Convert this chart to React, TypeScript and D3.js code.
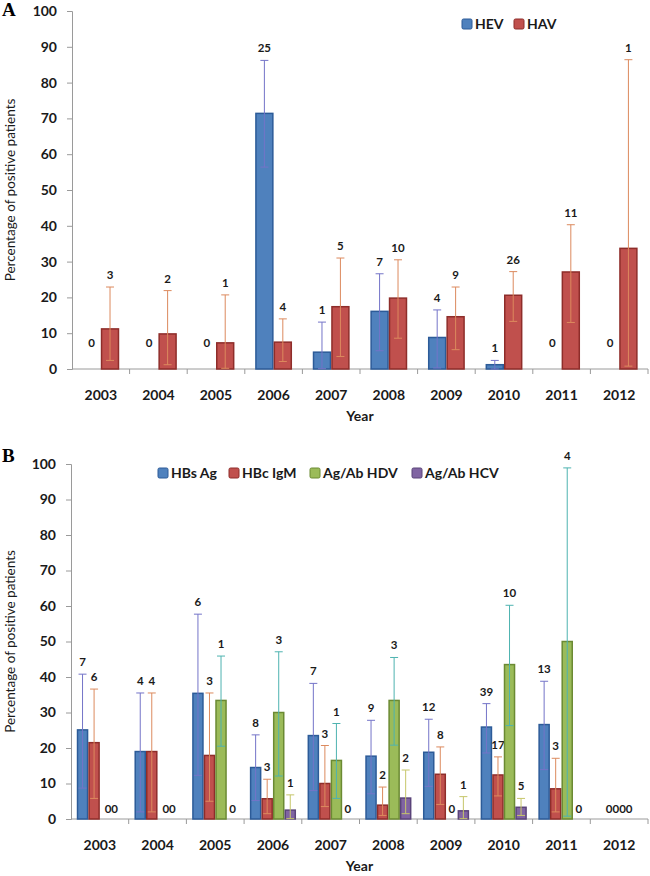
import React, { useEffect, useRef } from "react";
import * as d3 from "d3";

const years = ["2003", "2004", "2005", "2006", "2007", "2008", "2009", "2010", "2011", "2012"];
const yTicks = [0, 10, 20, 30, 40, 50, 60, 70, 80, 90, 100];

// Panel A
const hevPct = [0, 0, 0, 71.4, 4.7, 16.1, 8.8, 1.2, 0, 0];
const hevLow = [0, 0, 0, 56.4, 0.1, 5.1, 0.3, 0, 0, 0];
const hevHigh = [0, 0, 0, 86.2, 13.1, 26.6, 16.5, 2.4, 0, 0];
const hevN = [0, 0, 0, 25, 1, 7, 4, 1, 0, 0];

const havPct = [11.2, 9.8, 7.3, 7.5, 17.4, 19.8, 14.6, 20.6, 27.1, 33.7];
const havLow = [2.4, 1.2, 0.2, 2.1, 3.5, 8.6, 5.4, 13.3, 13.0, 0.8];
const havHigh = [22.9, 21.9, 20.7, 14.0, 31.0, 30.5, 22.9, 27.2, 40.3, 86.4];
const havN = [3, 2, 1, 4, 5, 10, 9, 26, 11, 1];

// Panel B
const hbsPct = [25.1, 19.0, 35.4, 14.5, 23.5, 17.7, 18.8, 25.9, 26.6, 0];
const hbsLow = [8.7, 2.0, 12.3, 5.2, 8.0, 7.1, 9.2, 18.6, 13.9, 0];
const hbsHigh = [40.8, 35.5, 57.7, 23.7, 38.2, 27.8, 28.1, 32.5, 38.8, 0];
const hbsN = [7, 4, 6, 8, 7, 9, 12, 39, 13, 0];

const hbcPct = [21.5, 19.0, 17.9, 5.7, 10.0, 3.9, 12.6, 12.4, 8.5, 0];
const hbcLow = [5.8, 2.0, 5.0, 1.5, 3.5, 1.0, 4.1, 6.5, 2.0, 0];
const hbcHigh = [36.6, 35.5, 35.5, 11.2, 20.7, 9.0, 20.3, 17.5, 17.1, 0];
const hbcN = [6, 4, 3, 3, 3, 2, 8, 17, 3, 0];

const hdvPct = [0, 0, 33.4, 30.0, 16.5, 33.4, 0, 43.5, 50.0, 0];
const hdvLow = [0, 0, 20.5, 12.1, 5.8, 20.8, 0, 26.3, 0.8, 0];
const hdvHigh = [0, 0, 45.9, 47.1, 26.9, 45.5, 0, 60.2, 98.9, 0];
const hdvN = [0, 0, 1, 3, 1, 3, 0, 10, 4, 0];

const hcvPct = [0, 0, 0, 2.5, 0, 5.9, 2.3, 3.3, 0, 0];
const hcvLow = [0, 0, 0, 0.1, 0, 1.5, 0.1, 1.0, 0, 0];
const hcvHigh = [0, 0, 0, 6.8, 0, 13.8, 6.3, 5.8, 0, 0];
const hcvN = [0, 0, 0, 1, 0, 2, 1, 5, 0, 0];

interface Series {
    name: string;
    pct: number[];
    low: number[];
    high: number[];
    n: number[];
    fill: string;
    stroke: string;
    err: string;
}

const seriesA: Series[] = [
    { name: "HEV", pct: hevPct, low: hevLow, high: hevHigh, n: hevN, fill: "#4f81bd", stroke: "#2c5b98", err: "#7474c8" },
    { name: "HAV", pct: havPct, low: havLow, high: havHigh, n: havN, fill: "#c0504d", stroke: "#8e2d2a", err: "#dc8a5e" },
];

const seriesB: Series[] = [
    { name: "HBs Ag", pct: hbsPct, low: hbsLow, high: hbsHigh, n: hbsN, fill: "#4f81bd", stroke: "#2c5b98", err: "#7474c8" },
    { name: "HBc IgM", pct: hbcPct, low: hbcLow, high: hbcHigh, n: hbcN, fill: "#c0504d", stroke: "#8e2d2a", err: "#dc8a5e" },
    { name: "Ag/Ab HDV", pct: hdvPct, low: hdvLow, high: hdvHigh, n: hdvN, fill: "#9bbb59", stroke: "#6b8a33", err: "#4eb3b0" },
    { name: "Ag/Ab HCV", pct: hcvPct, low: hcvLow, high: hcvHigh, n: hcvN, fill: "#8064a2", stroke: "#5a4479", err: "#c6c66a" },
];

const FONT = "Lato, 'Open Sans', sans-serif";

interface PanelCfg {
    letter: string;
    letterY: number;
    left: number;
    right: number;
    top: number;
    bottom: number;
    series: Series[];
    groupFrac: number;
    zeroLift: number;
    legendX: number[];
    legendY: number;
}

const drawPanel = (svg: any, cfg: PanelCfg) => {
    const g = svg.append("g");
    const x = d3.scaleBand().domain(years).range([cfg.left, cfg.right]).paddingInner(0).paddingOuter(0);
    const y = d3.scaleLinear().domain([0, 100]).range([cfg.bottom, cfg.top]);
    const groupW = x.bandwidth() * cfg.groupFrac;
    const names = cfg.series.map((s) => s.name);
    const xs = d3
        .scaleBand()
        .domain(names)
        .range([(x.bandwidth() - groupW) / 2, (x.bandwidth() + groupW) / 2]);

    // panel letter
    g.append("text")
        .attr("x", 2)
        .attr("y", cfg.letterY)
        .attr("font-family", "'Liberation Serif', 'Times New Roman', serif")
        .attr("font-weight", "bold")
        .attr("font-size", 19)
        .text(cfg.letter);

    // y axis
    const yAxis = d3.axisLeft(y).tickValues(yTicks).tickSize(5).tickPadding(10);
    const ya = g.append("g").attr("transform", `translate(${cfg.left},0)`).call(yAxis);
    ya.select(".domain").attr("stroke", "#9a9a9a");
    ya.selectAll(".tick line").attr("stroke", "#9a9a9a");
    ya.selectAll(".tick text")
        .attr("font-family", FONT)
        .attr("font-weight", "bold")
        .attr("font-size", 14)
        .attr("fill", "#1a1a1a");

    // x axis baseline and boundary ticks
    g.append("line")
        .attr("x1", cfg.left)
        .attr("x2", cfg.right)
        .attr("y1", cfg.bottom)
        .attr("y2", cfg.bottom)
        .attr("stroke", "#9a9a9a");
    years.forEach((yr) => {
        const bx = (x(yr) as number) + x.bandwidth();
        g.append("line")
            .attr("x1", bx)
            .attr("x2", bx)
            .attr("y1", cfg.bottom)
            .attr("y2", cfg.bottom + 5)
            .attr("stroke", "#9a9a9a");
        g.append("text")
            .attr("x", (x(yr) as number) + x.bandwidth() / 2)
            .attr("y", cfg.bottom + 31)
            .attr("text-anchor", "middle")
            .attr("font-family", FONT)
            .attr("font-weight", "bold")
            .attr("font-size", 14)
            .attr("fill", "#1a1a1a")
            .text(yr);
    });

    g.append("text")
        .attr("x", (cfg.left + cfg.right) / 2)
        .attr("y", cfg.bottom + 52)
        .attr("text-anchor", "middle")
        .attr("font-family", FONT)
        .attr("font-weight", "bold")
        .attr("font-size", 14)
        .attr("fill", "#1a1a1a")
        .text("Year");

    g.append("text")
        .attr("transform", `translate(15,${(cfg.top + cfg.bottom) / 2}) rotate(-90)`)
        .attr("text-anchor", "middle")
        .attr("font-family", FONT)
        .attr("font-size", 13.5)
        .attr("fill", "#1a1a1a")
        .text("Percentage of positive  patients");

    // bars + error bars
    cfg.series.forEach((s) => {
        years.forEach((yr, i) => {
            const bx = (x(yr) as number) + (xs(s.name) as number);
            const bw = xs.bandwidth();
            const cx = bx + bw / 2;
            if (s.pct[i] <= 0) return;
            g.append("rect")
                .attr("x", bx + 0.75)
                .attr("y", y(s.pct[i]))
                .attr("width", bw - 1.5)
                .attr("height", y(0) - y(s.pct[i]))
                .attr("fill", s.fill)
                .attr("stroke", s.stroke)
                .attr("stroke-width", 1.5);
            g.append("line")
                .attr("x1", cx)
                .attr("x2", cx)
                .attr("y1", y(s.low[i]))
                .attr("y2", y(s.high[i]))
                .attr("stroke", s.err)
                .attr("stroke-width", 1);
            [s.low[i], s.high[i]].forEach((v) => {
                g.append("line")
                    .attr("x1", cx - 4)
                    .attr("x2", cx + 4)
                    .attr("y1", y(v))
                    .attr("y2", y(v))
                    .attr("stroke", s.err)
                    .attr("stroke-width", 1);
            });
            g.append("text")
                .attr("x", cx)
                .attr("y", y(s.high[i]) - 8)
                .attr("text-anchor", "middle")
                .attr("font-family", FONT)
                .attr("font-weight", "bold")
                .attr("font-size", 11.5)
                .attr("fill", "#1a1a1a")
                .text(String(s.n[i]));
        });
    });

    // zero labels, runs of adjacent zero bars share one label
    years.forEach((yr) => {
        let run: number[] = [];
        const flush = () => {
            if (!run.length) return;
            const mx = d3.mean(run) as number;
            g.append("text")
                .attr("x", mx)
                .attr("y", y(0) - cfg.zeroLift)
                .attr("text-anchor", "middle")
                .attr("font-family", FONT)
                .attr("font-weight", "bold")
                .attr("font-size", 11.5)
                .attr("fill", "#1a1a1a")
                .text("0".repeat(run.length));
            run = [];
        };
        cfg.series.forEach((s, k) => {
            const i = years.indexOf(yr);
            const cx = (x(yr) as number) + (xs(s.name) as number) + xs.bandwidth() / 2;
            if (s.pct[i] <= 0) run.push(cx);
            else flush();
        });
        flush();
    });

    // legend
    cfg.series.forEach((s, k) => {
        const lx = cfg.legendX[k];
        g.append("rect")
            .attr("x", lx)
            .attr("y", cfg.legendY - 5)
            .attr("width", 10)
            .attr("height", 10)
            .attr("rx", 1.5)
            .attr("fill", s.fill)
            .attr("stroke", s.stroke)
            .attr("stroke-width", 1);
        g.append("text")
            .attr("x", lx + 13)
            .attr("y", cfg.legendY + 5)
            .attr("font-family", FONT)
            .attr("font-weight", "bold")
            .attr("font-size", 14)
            .attr("fill", "#1a1a1a")
            .text(s.name);
    });
};

const App = () => {
    const svgRef = useRef(null);

    useEffect(() => {
        const svg = d3.select(svgRef.current);
        svg.selectAll("*").remove();

        drawPanel(svg, {
            letter: "A",
            letterY: 16,
            left: 72,
            right: 648,
            top: 11,
            bottom: 369,
            series: seriesA,
            groupFrac: 0.64,
            zeroLift: 22,
            legendX: [462, 514],
            legendY: 24,
        });

        drawPanel(svg, {
            letter: "B",
            letterY: 462,
            left: 71,
            right: 648,
            top: 464,
            bottom: 819,
            series: seriesB,
            groupFrac: 0.8,
            zeroLift: 6,
            legendX: [158, 229, 310, 412],
            legendY: 473,
        });
    }, []);

    return (
        <svg
            ref={svgRef}
            width={650}
            height={876}
            style={{ position: "absolute", left: 0, top: 0, background: "#fff" }}
        ></svg>
    );
};

export default App;
